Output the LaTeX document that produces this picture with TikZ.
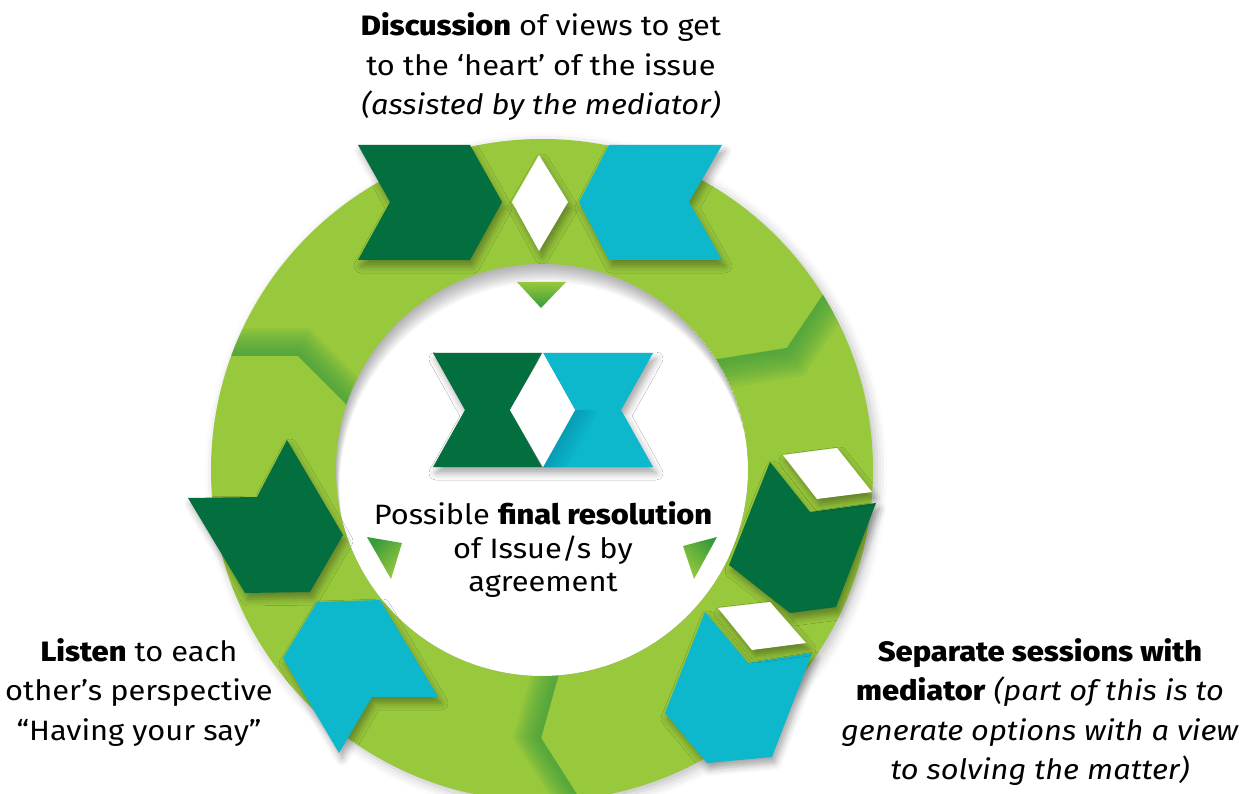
\documentclass[tikz,border=0pt]{standalone}
\usepackage{fontspec}
\setmainfont{Fira Sans}[FakeStretch=1.1,BoldFont={Fira Sans ExtraBold}]
\usetikzlibrary{shadows.blur}
\definecolor{dgreen}{RGB}{3,110,62}
\definecolor{cyanc}{RGB}{13,183,204}
\definecolor{ringc}{RGB}{152,200,60}
\definecolor{shadec}{RGB}{55,155,60}
\definecolor{dcyan}{RGB}{8,140,165}
\begin{document}
\begin{tikzpicture}[x=1pt,y=-1pt,
  txt/.style={align=center,inner sep=0pt,font=\fontsize{28}{39.5}\selectfont},
  ctxt/.style={align=center,inner sep=0pt,font=\fontsize{28}{33.5}\selectfont},
  sh/.style={blur shadow={shadow xshift=3pt,shadow yshift=-6pt,shadow blur radius=7pt,shadow opacity=35}},
  band/.style={shadec,opacity=0.07},
  tri/.style={top color=shadec,bottom color=ringc}]
\useasboundingbox (0,0) rectangle (1251,794);
% ring
\fill[ringc, blur shadow={shadow xshift=4pt,shadow yshift=-4pt,shadow blur radius=10pt,shadow opacity=25}] (542,470) circle[radius=331];
\begin{scope}
  \clip (542,470) circle[radius=331];
  \foreach \k in {2,4,...,28}{
    \fill[band] (200,356)--(298,356)--(365,423)--({365+0.4*\k},{423-\k})--({298+0.4*\k},{356-\k})--({200+0.4*\k},{356-\k})--cycle;
    \fill[band] (700,362)--(787,348)--(841,268)--({841+0.6*\k},{268+\k})--({787+0.6*\k},{348+\k})--({700+0.6*\k},{362+\k})--cycle;
    \fill[band] (564,655)--(541,738)--(590,815)--({590-\k},815)--({541-\k},738)--({564-\k},655)--cycle;
  }
\end{scope}
% hole
\fill[white] (542,470) circle[radius=206];
\begin{scope}
  \clip (542,470) circle[radius=206];
  \foreach \k in {1,...,9}{
    \fill[black,opacity=0.035,even odd rule] (542,470) circle[radius=206] ({542+0.4*\k},{470+2*\k}) circle[radius=206];
  }
\end{scope}
% small triangles
\shade[tri,top color=ringc,bottom color=shadec] (517,282)--(566,282)--(541,308)--cycle;
\shade[tri,shading angle=45] (367,537)--(402,543)--(391,579)--cycle;
\shade[tri,shading angle=-45] (683,546)--(717,537)--(694,579)--cycle;
% top group
\fill[dgreen,sh] (358,145)--(470,145)--(502,202)--(470,260)--(358,260)--(390,202)--cycle;
\fill[white,sh] (539,155)--(568,202)--(539,251)--(512,202)--cycle;
\fill[cyanc,sh] (609,145)--(722,145)--(689,202)--(722,260)--(609,260)--(579,202)--cycle;
% center group
\fill[black!40,opacity=0.0,blur shadow={shadow xshift=3pt,shadow yshift=-6pt,shadow blur radius=7pt,shadow opacity=35}] (433,353)--(653,353)--(621,410)--(653,467)--(433,467)--(465,410)--cycle;
\fill[dgreen] (433,353)--(542,353)--(510,410)--(542,467)--(433,467)--(465,410)--cycle;
\fill[cyanc] (543,353)--(653,353)--(621,410)--(653,467)--(543,467)--(575,410)--cycle;
\begin{scope}
  \clip (543,353)--(653,353)--(621,410)--(653,467)--(543,467)--(575,410)--cycle;
  \foreach \k in {2,4,...,24}{
    \fill[dcyan,opacity=0.05] (575,410)--(543,467)--({543+\k},467)--({575+\k},410)--cycle;
  }
\end{scope}
\fill[white] (543,353)--(575,410)--(543,467)--(510,410)--cycle;
% right group
\fill[dgreen,sh] (770,462)--(810,512)--(876,503)--(836,607)--(790,613)--(729,565)--cycle;
\fill[white,sh] (783,455)--(837,448)--(872,492)--(817,499)--cycle;
\fill[cyanc,sh] (705,612)--(748,663)--(812,653)--(772,757)--(707,763)--(665,713)--cycle;
\fill[white,sh] (718,608)--(770,602)--(806,643)--(752,650)--cycle;
% left group
\fill[dgreen,sh] (287,440)--(257,497)--(188,498)--(245,593)--(310,592)--(343,535)--cycle;
\fill[cyanc,sh] (317,602)--(380,600)--(438,697)--(372,697)--(339,753)--(283,658)--cycle;
% texts
\node[txt] (top) at (541,67) {\textbf{Discussion} of views to get\\to the ‘heart’ of the issue\\\textit{(assisted by the mediator)}};
\node[txt] (left) at (139,692) {\textbf{Listen} to each\\other’s perspective\\“Having your say”};
\node[txt] (right) at (1040,712) {\textbf{Separate sessions with}\\\textbf{mediator} \textit{(part of this is to}\\\textit{generate options with a view}\\\textit{to solving the matter)}};
\node[ctxt] (centre) at (543,550) {Possible \textbf{final resolution}\\of Issue/s by\\agreement};
\end{tikzpicture}
\end{document}
